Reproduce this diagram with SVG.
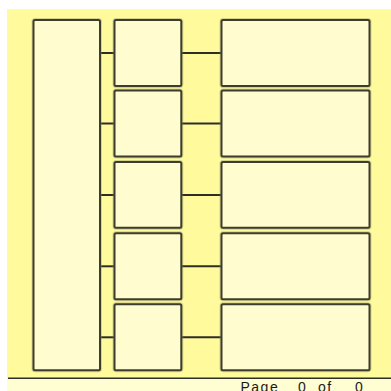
<svg xmlns="http://www.w3.org/2000/svg" width="391" height="391" viewBox="0 0 391 391">
<defs>
<style>
.box{fill:#fffdcf;stroke:#3c3c30;stroke-width:2}
.halo{fill:none;stroke:#8a8a60;stroke-width:4;stroke-opacity:0.35}
.conn{stroke:#2e2e28;stroke-width:2;fill:none}
.pg{font-family:"Liberation Sans",Arial,sans-serif;font-size:14px;fill:#1a1a1a;letter-spacing:1.5px}
</style>
</defs>
<rect x="0" y="0" width="391" height="391" fill="#ffffff"/>
<rect x="7" y="9" width="384" height="370" fill="#fffa9c"/>
<rect x="7" y="379" width="384" height="12" fill="#fffdd2"/>
<line x1="8" y1="378.3" x2="391" y2="378.3" stroke="#2e2e28" stroke-width="1.6"/>
<g id="connectors">
<line class="conn" x1="100" y1="53" x2="114.5" y2="53"/>
<line class="conn" x1="100" y1="123.5" x2="114.5" y2="123.5"/>
<line class="conn" x1="100" y1="195" x2="114.5" y2="195"/>
<line class="conn" x1="100" y1="266.3" x2="114.5" y2="266.3"/>
<line class="conn" x1="100" y1="337.3" x2="114.5" y2="337.3"/>
<line class="conn" x1="181.3" y1="53" x2="221.5" y2="53"/>
<line class="conn" x1="181.3" y1="123.5" x2="221.5" y2="123.5"/>
<line class="conn" x1="181.3" y1="195" x2="221.5" y2="195"/>
<line class="conn" x1="181.3" y1="266.3" x2="221.5" y2="266.3"/>
<line class="conn" x1="181.3" y1="337.3" x2="221.5" y2="337.3"/>
</g>
<g id="root">
<rect class="halo" x="33.5" y="20" width="66.5" height="350.3" rx="1.5"/>
<rect class="box" x="33.5" y="20" width="66.5" height="350.3" rx="1.5"/>
</g>
<g id="mid1"><rect class="halo" x="114.5" y="20" width="66.8" height="66" rx="1.5"/><rect class="box" x="114.5" y="20" width="66.8" height="66" rx="1.5"/></g>
<g id="mid2"><rect class="halo" x="114.5" y="90.5" width="66.8" height="66" rx="1.5"/><rect class="box" x="114.5" y="90.5" width="66.8" height="66" rx="1.5"/></g>
<g id="mid3"><rect class="halo" x="114.5" y="162" width="66.8" height="65.7" rx="1.5"/><rect class="box" x="114.5" y="162" width="66.8" height="65.7" rx="1.5"/></g>
<g id="mid4"><rect class="halo" x="114.5" y="233.3" width="66.8" height="66" rx="1.5"/><rect class="box" x="114.5" y="233.3" width="66.8" height="66" rx="1.5"/></g>
<g id="mid5"><rect class="halo" x="114.5" y="304.3" width="66.8" height="66" rx="1.5"/><rect class="box" x="114.5" y="304.3" width="66.8" height="66" rx="1.5"/></g>
<g id="right1"><rect class="halo" x="221.5" y="20" width="148" height="66" rx="1.5"/><rect class="box" x="221.5" y="20" width="148" height="66" rx="1.5"/></g>
<g id="right2"><rect class="halo" x="221.5" y="90.5" width="148" height="66" rx="1.5"/><rect class="box" x="221.5" y="90.5" width="148" height="66" rx="1.5"/></g>
<g id="right3"><rect class="halo" x="221.5" y="162" width="148" height="65.7" rx="1.5"/><rect class="box" x="221.5" y="162" width="148" height="65.7" rx="1.5"/></g>
<g id="right4"><rect class="halo" x="221.5" y="233.3" width="148" height="66" rx="1.5"/><rect class="box" x="221.5" y="233.3" width="148" height="66" rx="1.5"/></g>
<g id="right5"><rect class="halo" x="221.5" y="304.3" width="148" height="66" rx="1.5"/><rect class="box" x="221.5" y="304.3" width="148" height="66" rx="1.5"/></g>
<g id="footer">
<text class="pg" x="240.5" y="392">Page</text>
<text class="pg" x="298" y="392">0</text>
<text class="pg" x="318" y="392">of</text>
<text class="pg" x="355" y="392">0</text>
</g>
</svg>
